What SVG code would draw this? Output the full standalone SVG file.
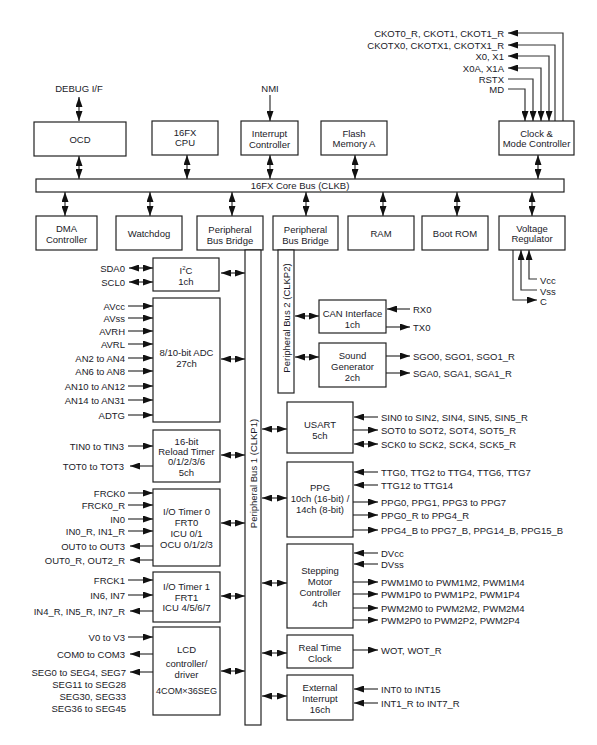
<svg xmlns="http://www.w3.org/2000/svg" width="597" height="745" viewBox="0 0 597 745">
<defs>
<marker id="ah" viewBox="0 0 10 7" markerWidth="10" markerHeight="7" refX="10" refY="3.5" orient="auto-start-reverse" markerUnits="userSpaceOnUse">
<path d="M0,0 L10,3.5 L0,7 z" fill="#111"/>
</marker>
<style>
text{font-family:"Liberation Sans",Arial,sans-serif;font-size:9.5px;fill:#1a1a28}
.c{text-anchor:middle}
.e{text-anchor:end}
rect{fill:#fff;stroke:#222;stroke-width:1.2}
#connectors line,#connectors polyline{stroke:#333;stroke-width:1.2;fill:none}
.b{marker-start:url(#ah);marker-end:url(#ah)}
.o{marker-end:url(#ah)}
</style>
</defs>
<rect x="0" y="0" width="597" height="745" style="fill:#fff;stroke:none"/>

<g id="connectors">
<line class="b" x1="79" y1="97" x2="79" y2="121"/>
<line class="b" x1="79" y1="156" x2="79" y2="179"/>
<line class="b" x1="187" y1="155" x2="187" y2="179"/>
<line class="o" x1="270" y1="95" x2="270" y2="121"/>
<line class="b" x1="270" y1="155" x2="270" y2="179"/>
<line class="b" x1="355" y1="155" x2="355" y2="179"/>
<line class="b" x1="538" y1="155" x2="538" y2="179"/>
<line class="b" x1="65" y1="192" x2="65" y2="216"/>
<line class="b" x1="150" y1="192" x2="150" y2="216"/>
<line class="b" x1="232" y1="192" x2="232" y2="216"/>
<line class="b" x1="306" y1="192" x2="306" y2="216"/>
<line class="b" x1="383" y1="192" x2="383" y2="216"/>
<line class="b" x1="457" y1="192" x2="457" y2="216"/>
<line class="b" x1="532" y1="192" x2="532" y2="216"/>
<polyline class="o" points="563,121 563,33 508,33"/>
<polyline class="o" points="555,121 555,45 508,45"/>
<polyline class="b" points="508,56 549,56 549,121"/>
<polyline class="b" points="508,68 541,68 541,121"/>
<polyline class="o" points="508,79 533,79 533,121"/>
<polyline class="o" points="508,89 525,89 525,121"/>
<polyline class="o" points="537,279 529,279 529,250"/>
<polyline class="o" points="537,290 521,290 521,250"/>
<polyline class="o" points="513,250 513,300 537,300"/>
<line class="b" x1="129" y1="268" x2="153" y2="268"/>
<line class="b" x1="129" y1="282" x2="153" y2="282"/>
<line class="b" x1="221" y1="273" x2="245" y2="273"/>
<line class="o" x1="128" y1="306" x2="153" y2="306"/>
<line class="o" x1="128" y1="318" x2="153" y2="318"/>
<line class="o" x1="128" y1="331" x2="153" y2="331"/>
<line class="o" x1="128" y1="344" x2="153" y2="344"/>
<line class="o" x1="128" y1="358" x2="153" y2="358"/>
<line class="o" x1="128" y1="371" x2="153" y2="371"/>
<line class="o" x1="128" y1="386" x2="153" y2="386"/>
<line class="o" x1="128" y1="400" x2="153" y2="400"/>
<line class="o" x1="128" y1="415" x2="153" y2="415"/>
<line class="b" x1="221" y1="359" x2="245" y2="359"/>
<line class="o" x1="128" y1="446" x2="153" y2="446"/>
<line class="o" x1="153" y1="466" x2="130" y2="466"/>
<line class="b" x1="221" y1="455" x2="245" y2="455"/>
<line class="o" x1="128" y1="493" x2="153" y2="493"/>
<line class="o" x1="128" y1="505" x2="153" y2="505"/>
<line class="o" x1="128" y1="519" x2="153" y2="519"/>
<line class="o" x1="128" y1="531" x2="153" y2="531"/>
<line class="o" x1="153" y1="546" x2="130" y2="546"/>
<line class="o" x1="153" y1="560" x2="130" y2="560"/>
<line class="b" x1="221" y1="523" x2="245" y2="523"/>
<line class="o" x1="128" y1="580" x2="153" y2="580"/>
<line class="o" x1="128" y1="595" x2="153" y2="595"/>
<line class="o" x1="153" y1="611" x2="130" y2="611"/>
<line class="b" x1="221" y1="596" x2="245" y2="596"/>
<line class="o" x1="128" y1="637" x2="153" y2="637"/>
<line class="o" x1="153" y1="654" x2="130" y2="654"/>
<line class="o" x1="153" y1="672" x2="130" y2="672"/>
<line class="b" x1="221" y1="671" x2="245" y2="671"/>
<line class="b" x1="262" y1="429" x2="287" y2="429"/>
<line class="b" x1="262" y1="498" x2="287" y2="498"/>
<line class="b" x1="262" y1="583" x2="287" y2="583"/>
<line class="b" x1="262" y1="653" x2="287" y2="653"/>
<line class="b" x1="262" y1="696" x2="287" y2="696"/>
<line class="b" x1="295" y1="316" x2="319" y2="316"/>
<line class="b" x1="295" y1="357" x2="319" y2="357"/>
<line class="o" x1="410" y1="309" x2="387" y2="309"/>
<line class="o" x1="386" y1="327" x2="410" y2="327"/>
<line class="o" x1="386" y1="356" x2="410" y2="356"/>
<line class="o" x1="386" y1="373" x2="410" y2="373"/>
<line class="o" x1="378" y1="417" x2="354" y2="417"/>
<line class="o" x1="353" y1="430" x2="378" y2="430"/>
<line class="b" x1="354" y1="444" x2="378" y2="444"/>
<line class="o" x1="378" y1="472" x2="354" y2="472"/>
<line class="o" x1="378" y1="485" x2="354" y2="485"/>
<line class="o" x1="353" y1="502" x2="378" y2="502"/>
<line class="o" x1="353" y1="515" x2="378" y2="515"/>
<line class="o" x1="353" y1="530" x2="378" y2="530"/>
<line class="o" x1="378" y1="553" x2="354" y2="553"/>
<line class="o" x1="378" y1="564" x2="354" y2="564"/>
<line class="o" x1="353" y1="582" x2="378" y2="582"/>
<line class="o" x1="353" y1="594" x2="378" y2="594"/>
<line class="o" x1="353" y1="608" x2="378" y2="608"/>
<line class="o" x1="353" y1="620" x2="378" y2="620"/>
<line class="o" x1="353" y1="650" x2="378" y2="650"/>
<line class="o" x1="378" y1="689" x2="354" y2="689"/>
<line class="o" x1="378" y1="703" x2="354" y2="703"/>
</g>

<g id="ocd"><rect x="34" y="122" width="92" height="34"/><text class="c" x="80" y="142.5">OCD</text></g>
<g id="cpu"><rect x="152" y="121" width="66" height="34"/><text class="c" x="185" y="135.5">16FX</text><text class="c" x="185" y="146">CPU</text></g>
<g id="intc"><rect x="241" y="121" width="57" height="34"/><text class="c" x="269.5" y="136.5">Interrupt</text><text class="c" x="269.5" y="147.5">Controller</text></g>
<g id="flash"><rect x="321" y="121" width="66" height="34"/><text class="c" x="354" y="136.5">Flash</text><text class="c" x="354" y="146.5">Memory A</text></g>
<g id="clock"><rect x="499" y="121" width="75" height="34"/><text class="c" x="536.5" y="136.5">Clock &amp;</text><text class="c" x="536.5" y="146.5">Mode Controller</text></g>
<g id="corebus"><rect x="36" y="179" width="528" height="13"/><text class="c" x="300" y="189">16FX Core Bus (CLKB)</text></g>
<g id="dma"><rect x="36" y="216" width="61" height="34"/><text class="c" x="66.5" y="231.5">DMA</text><text class="c" x="66.5" y="242.5">Controller</text></g>
<g id="watchdog"><rect x="116" y="216" width="66" height="34"/><text class="c" x="149" y="236.5">Watchdog</text></g>
<g id="pbb1"><rect x="197" y="216" width="66" height="34"/><text class="c" x="230" y="232.5">Peripheral</text><text class="c" x="230" y="243.5">Bus Bridge</text></g>
<g id="pbb2"><rect x="273" y="216" width="65" height="34"/><text class="c" x="305.5" y="232.5">Peripheral</text><text class="c" x="305.5" y="243.5">Bus Bridge</text></g>
<g id="ram"><rect x="348" y="216" width="66" height="34"/><text class="c" x="381" y="236.5">RAM</text></g>
<g id="bootrom"><rect x="422" y="216" width="66" height="34"/><text class="c" x="455" y="236.5">Boot ROM</text></g>
<g id="vreg"><rect x="499" y="216" width="66" height="34"/><text class="c" x="532" y="231.5">Voltage</text><text class="c" x="532" y="241.5">Regulator</text></g>
<g id="pbus1"><rect x="245" y="250" width="16" height="475"/><text class="c" transform="translate(256.5,473.5) rotate(-90)">Peripheral Bus 1 (CLKP1)</text></g>
<g id="pbus2"><rect x="278" y="250" width="16" height="143"/><text class="c" transform="translate(289.5,318) rotate(-90)">Peripheral Bus 2 (CLKP2)</text></g>
<g id="i2c"><rect x="153" y="258" width="66" height="33"/><text class="c" x="186" y="273.5">I<tspan font-size="6" dy="-3.5">2</tspan><tspan dy="3.5">C</tspan></text><text class="c" x="186" y="285">1ch</text></g>
<g id="adc"><rect x="153" y="298" width="67" height="124"/><text class="c" x="186.5" y="355.5">8/10-bit ADC</text><text class="c" x="186.5" y="366.5">27ch</text></g>
<g id="reload"><rect x="153" y="430" width="67" height="52"/><text class="c" x="186.5" y="444.5">16-bit</text><text class="c" x="186.5" y="454.5">Reload Timer</text><text class="c" x="186.5" y="464.5">0/1/2/3/6</text><text class="c" x="186.5" y="475.5">5ch</text></g>
<g id="iot0"><rect x="153" y="489" width="67" height="77"/><text class="c" x="186.5" y="514.5">I/O Timer 0</text><text class="c" x="186.5" y="525.5">FRT0</text><text class="c" x="186.5" y="536.5">ICU 0/1</text><text class="c" x="186.5" y="547.5">OCU 0/1/2/3</text></g>
<g id="iot1"><rect x="153" y="572" width="67" height="50"/><text class="c" x="186.5" y="589.5">I/O Timer 1</text><text class="c" x="186.5" y="600.5">FRT1</text><text class="c" x="186.5" y="610.5">ICU 4/5/6/7</text></g>
<g id="lcd"><rect x="153" y="627" width="67" height="88"/><text class="c" x="186.5" y="652.5">LCD</text><text class="c" x="186.5" y="666.5">controller/</text><text class="c" x="186.5" y="677.5">driver</text><text class="c" x="186.5" y="693.5" textLength="61" lengthAdjust="spacingAndGlyphs">4COM×36SEG</text></g>
<g id="can"><rect x="319" y="300" width="67" height="33"/><text class="c" x="352.5" y="316.5">CAN Interface</text><text class="c" x="352.5" y="327.5">1ch</text></g>
<g id="sound"><rect x="319" y="343" width="67" height="44"/><text class="c" x="352.5" y="358.5">Sound</text><text class="c" x="352.5" y="369.5">Generator</text><text class="c" x="352.5" y="380.5">2ch</text></g>
<g id="usart"><rect x="287" y="402" width="66" height="51"/><text class="c" x="320" y="427.5">USART</text><text class="c" x="320" y="438.5">5ch</text></g>
<g id="ppg"><rect x="287" y="462" width="66" height="75"/><text class="c" x="320" y="490.5">PPG</text><text class="c" x="320" y="501.5">10ch (16-bit) /</text><text class="c" x="320" y="512.5">14ch (8-bit)</text></g>
<g id="stepper"><rect x="287" y="544" width="66" height="84"/><text class="c" x="320" y="573.5">Stepping</text><text class="c" x="320" y="584.5">Motor</text><text class="c" x="320" y="595.5">Controller</text><text class="c" x="320" y="606.5">4ch</text></g>
<g id="rtc"><rect x="287" y="635" width="66" height="33"/><text class="c" x="320" y="650.5">Real Time</text><text class="c" x="320" y="661.5">Clock</text></g>
<g id="extint"><rect x="287" y="675" width="66" height="45"/><text class="c" x="320" y="690.5">External</text><text class="c" x="320" y="701.5">Interrupt</text><text class="c" x="320" y="712.5">16ch</text></g>

<g id="pins">
<text class="c" x="79" y="91.5">DEBUG I/F</text>
<text class="c" x="270" y="91.5">NMI</text>
<text class="e" x="504" y="36.5">CKOT0_R, CKOT1, CKOT1_R</text>
<text class="e" x="504" y="48.5">CKOTX0, CKOTX1, CKOTX1_R</text>
<text class="e" x="504" y="59.5">X0, X1</text>
<text class="e" x="504" y="71.5">X0A, X1A</text>
<text class="e" x="504" y="82.5">RSTX</text>
<text class="e" x="504" y="92.5">MD</text>
<text x="540" y="283.5">Vcc</text>
<text x="540" y="294.5">Vss</text>
<text x="540" y="304.5">C</text>
<text class="e" x="125" y="271.5">SDA0</text>
<text class="e" x="125" y="285.5">SCL0</text>
<text class="e" x="125" y="309.5">AVcc</text>
<text class="e" x="125" y="321.5">AVss</text>
<text class="e" x="125" y="334.5">AVRH</text>
<text class="e" x="125" y="347.5">AVRL</text>
<text class="e" x="125" y="361.5">AN2 to AN4</text>
<text class="e" x="125" y="374.5">AN6 to AN8</text>
<text class="e" x="125" y="389.5">AN10 to AN12</text>
<text class="e" x="125" y="403.5">AN14 to AN31</text>
<text class="e" x="125" y="418.5">ADTG</text>
<text class="e" x="124" y="449.5">TIN0 to TIN3</text>
<text class="e" x="124" y="469.5">TOT0 to TOT3</text>
<text class="e" x="125" y="496.5">FRCK0</text>
<text class="e" x="125" y="508.5">FRCK0_R</text>
<text class="e" x="125" y="522.5">IN0</text>
<text class="e" x="125" y="534.5">IN0_R, IN1_R</text>
<text class="e" x="125" y="549.5">OUT0 to OUT3</text>
<text class="e" x="125" y="563.5">OUT0_R, OUT2_R</text>
<text class="e" x="125" y="583.5">FRCK1</text>
<text class="e" x="125" y="598.5">IN6, IN7</text>
<text class="e" x="125" y="614.5">IN4_R, IN5_R, IN7_R</text>
<text class="e" x="125" y="640.5">V0 to V3</text>
<text class="e" x="125" y="657.5">COM0 to COM3</text>
<text class="e" x="126" y="675.5">SEG0 to SEG4, SEG7</text>
<text class="e" x="126" y="687.5">SEG11 to SEG28</text>
<text class="e" x="126" y="699.5">SEG30, SEG33</text>
<text class="e" x="126" y="711.5">SEG36 to SEG45</text>
<text x="413" y="312.5">RX0</text>
<text x="413" y="330.5">TX0</text>
<text x="413" y="359.5">SGO0, SGO1, SGO1_R</text>
<text x="413" y="376.5">SGA0, SGA1, SGA1_R</text>
<text x="381" y="420.5">SIN0 to SIN2, SIN4, SIN5, SIN5_R</text>
<text x="381" y="433.5">SOT0 to SOT2, SOT4, SOT5_R</text>
<text x="381" y="447.5">SCK0 to SCK2, SCK4, SCK5_R</text>
<text x="381" y="475.5">TTG0, TTG2 to TTG4, TTG6, TTG7</text>
<text x="381" y="488.5">TTG12 to TTG14</text>
<text x="381" y="505.5">PPG0, PPG1, PPG3 to PPG7</text>
<text x="381" y="518.5">PPG0_R to PPG4_R</text>
<text x="381" y="533.5">PPG4_B to PPG7_B, PPG14_B, PPG15_B</text>
<text x="381" y="556.5">DVcc</text>
<text x="381" y="567.5">DVss</text>
<text x="381" y="585.5">PWM1M0 to PWM1M2, PWM1M4</text>
<text x="381" y="597.5">PWM1P0 to PWM1P2, PWM1P4</text>
<text x="381" y="611.5">PWM2M0 to PWM2M2, PWM2M4</text>
<text x="381" y="623.5">PWM2P0 to PWM2P2, PWM2P4</text>
<text x="381" y="653.5">WOT, WOT_R</text>
<text x="381" y="692.5">INT0 to INT15</text>
<text x="381" y="706.5">INT1_R to INT7_R</text>
</g>
</svg>
